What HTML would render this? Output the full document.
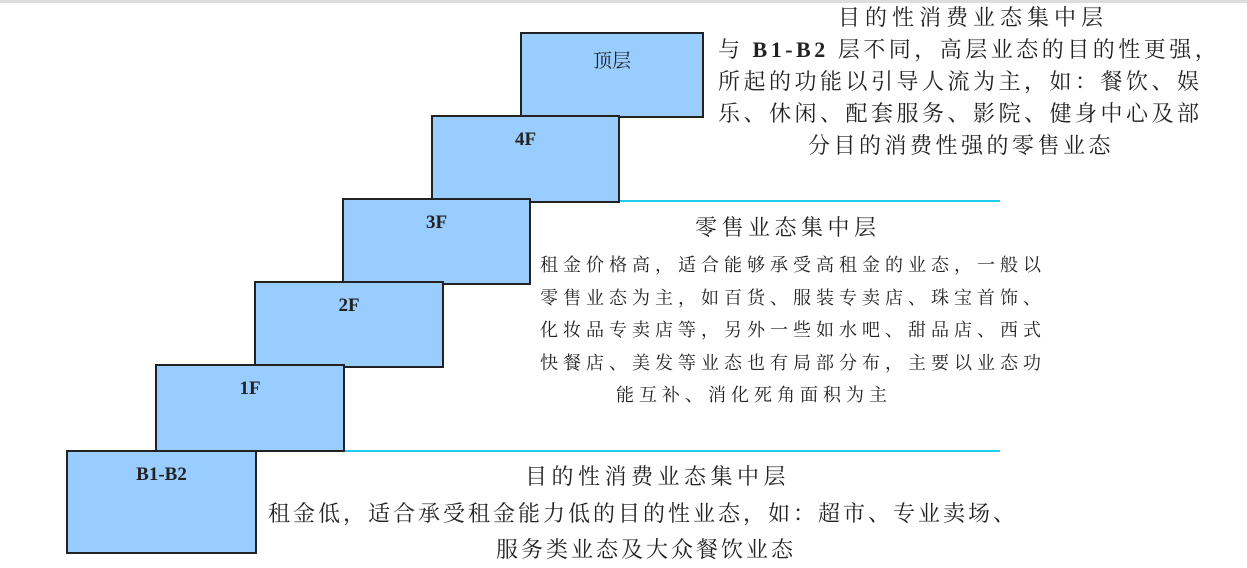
<!DOCTYPE html>
<html><head><meta charset="utf-8"><style>
body{margin:0;width:1247px;height:565px;background:#fff;position:relative;overflow:hidden;font-family:"Liberation Serif","Noto Serif CJK SC",serif;color:#222}
.b{position:absolute;background:#99ccff;border:2px solid #222;box-sizing:border-box;text-align:center;font-size:19px;font-weight:bold;padding-top:12px}
.l{position:absolute;height:2px;background:#22ccf0}
.t{position:absolute;white-space:nowrap}
</style></head><body>
<div style="position:absolute;left:0;top:0;width:1247px;height:3px;background:#ddd"></div>
<div class="l" style="left:600px;top:200px;width:400px"></div>
<div class="l" style="left:240px;top:450px;width:760px"></div>
<div class="b" style="left:520px;top:32px;width:184px;height:86px;font-weight:normal">顶层</div>
<div class="b" style="left:431px;top:115px;width:189px;height:88px">4F</div>
<div class="b" style="left:342px;top:198px;width:189px;height:87px">3F</div>
<div class="b" style="left:254px;top:281px;width:190px;height:87px">2F</div>
<div class="b" style="left:155px;top:364px;width:190px;height:88px">1F</div>
<div class="b" style="left:66px;top:450px;width:191px;height:104px">B1-B2</div>
<div class="t" style="left:838px;top:1px;font-size:22px;letter-spacing:5px">目的性消费业态集中层</div>
<div class="t" style="left:718px;top:34px;font-size:22px;line-height:32px;letter-spacing:3.5px">与 <b>B1-B2</b> 层不同，高层业态的目的性更强，<br>所起的功能以引导人流为主，如：餐饮、娱<br>乐、休闲、配套服务、影院、健身中心及部<br><span style="padding-left:90px">分目的消费性强的零售业态</span></div>
<div class="t" style="left:695px;top:211px;font-size:22px;letter-spacing:4.5px">零售业态集中层</div>
<div class="t" style="left:540px;top:249px;font-size:18px;line-height:32.5px;letter-spacing:5px">租金价格高，适合能够承受高租金的业态，一般以<br>零售业态为主，如百货、服装专卖店、珠宝首饰、<br>化妆品专卖店等，另外一些如水吧、甜品店、西式<br>快餐店、美发等业态也有局部分布，主要以业态功<br><span style="padding-left:76px">能互补、消化死角面积为主</span></div>
<div class="t" style="left:525px;top:460px;font-size:22px;letter-spacing:4.5px">目的性消费业态集中层</div>
<div class="t" style="left:268px;top:496px;font-size:22px;line-height:36px;letter-spacing:3px">租金低，适合承受租金能力低的目的性业态，如：超市、专业卖场、<br><span style="padding-left:228px">服务类业态及大众餐饮业态</span></div>
</body></html>
